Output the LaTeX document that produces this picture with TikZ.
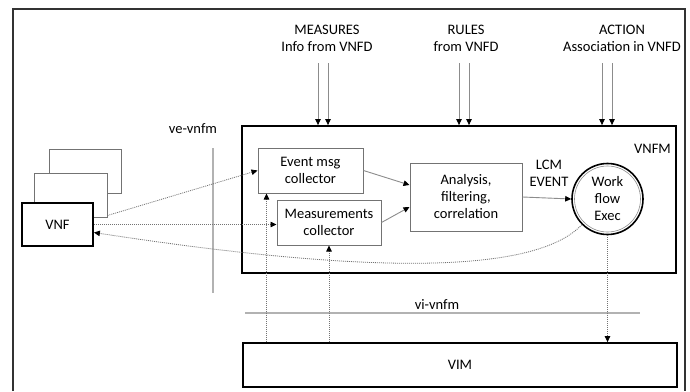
\documentclass[tikz,border=0pt]{standalone}
\usepackage{fontspec}
\setmainfont{Carlito}
\usetikzlibrary{arrows.meta}
\begin{document}
\begin{tikzpicture}[x=1pt,y=-1pt,
  font=\fontsize{14.5}{17}\selectfont,
  tip/.style={-{Triangle[length=6pt,width=5.5pt,color=black]}},
  grayline/.style={draw=black!45, line width=0.9pt},
  lightline/.style={draw=black!30, line width=1.4pt},
  dots/.style={draw=black!55, line width=0.8pt, dash pattern=on 1pt off 1pt},
  thinbox/.style={draw=black!55, line width=1pt, fill=white, align=center, inner sep=0pt},
  thickbox/.style={draw=black, line width=1.8pt, fill=white, inner sep=0pt, align=center},
  lbl/.style={align=center, inner sep=0pt}
]
\useasboundingbox (0,0) rectangle (690,391);

% outer frame, open at the bottom
\draw[black!80, line width=1.3pt] (13,391) -- (13,9) -- (685,9) -- (685,391);

% stacked VNF instances
\node[thinbox, minimum width=72pt, minimum height=44pt] (vnfback) at (85,171) {};
\node[thinbox, minimum width=73pt, minimum height=44pt] (vnfmid) at (70.5,195) {};
\node[thickbox, minimum width=71pt, minimum height=43pt] (vnf) at (57.5,224.5) {VNF};

% ve-vnfm reference point
\node[lbl] (velbl) at (193,129) {ve-vnfm};
\coordinate (vetop) at (213,148);
\coordinate (vebot) at (213,293);
\draw[lightline] (vetop) -- (vebot);

% VNFM and its functional blocks
\node[thickbox, minimum width=434pt, minimum height=147pt] (vnfm) at (459,199.5) {};
\node[lbl, anchor=east] (vnfmlbl) at (671,149) {VNFM};
\node[thinbox, minimum width=105pt, minimum height=45pt] (event) at (310.5,170.5) {Event msg\\collector};
\node[thinbox, minimum width=104pt, minimum height=45pt] (meas) at (329,222.5) {Measurements\\collector};
\node[thinbox, minimum width=112pt, minimum height=68pt] (ana) at (466,197) {Analysis,\\filtering,\\correlation};
\node[circle, draw=black, line width=1.6pt, fill=white, minimum size=71pt, inner sep=0pt, align=center] (wf) at (607.5,199) {};
\node[circle, draw=black!45, line width=0.6pt, minimum size=66pt, inner sep=0pt, align=center] (wfin) at (607.5,199) {Work\\flow\\Exec};
\node[lbl] (lcm) at (549,173) {LCM\\EVENT};

% VIM
\node[thickbox, minimum width=434pt, minimum height=44pt] (vim) at (460,365) {VIM};

% vi-vnfm reference point
\node[lbl] (vilbl) at (437,305) {vi-vnfm};
\coordinate (vileft) at (245,313);
\coordinate (viright) at (640,313);
\draw[lightline, line width=1.1pt] (vileft) -- (viright);

% descriptor inputs from the top
\node[lbl] (mlbl) at (327,38) {MEASURES\\Info from VNFD};
\node[lbl] (rlbl) at (466,38) {RULES\\from VNFD};
\node[lbl] (albl) at (622,38) {ACTION\\Association in VNFD};
\foreach \x [count=\i] in {318,328,459,469,602,612} {
  \coordinate (in\i) at (\x,63);
  \draw[grayline, tip] (in\i) -- (in\i |- vnfm.north);
}

% internal flows
\draw[grayline, tip] (event.east) -- ([yshift=12pt]ana.west);
\draw[grayline, tip] (meas.east) -- ([yshift=-10pt]ana.west);
\draw[grayline, tip] (ana.east) -- (wf.west);

% flows from VNF to the collectors
\draw[dots, tip] ([yshift=2pt]vnfmid.south east) -- (event.west);
\draw[dots, tip] (vnf.east) -- (vnf.east -| meas.west);

% lifecycle action back to the VNF
\draw[dots, tip] (wf.225) .. controls (525,285) and (300,264) .. ([yshift=-8pt]vnf.east);

% flows between VIM and VNFM
\coordinate (evx) at ([xshift=9pt]event.south west);
\draw[dots, tip] (evx |- vim.north) -- (evx);
\draw[dots, tip] (meas.south |- vim.north) -- (meas.south);
\draw[dots, tip] (wf.south) -- (wf.south |- vim.north);
\end{tikzpicture}
\end{document}
